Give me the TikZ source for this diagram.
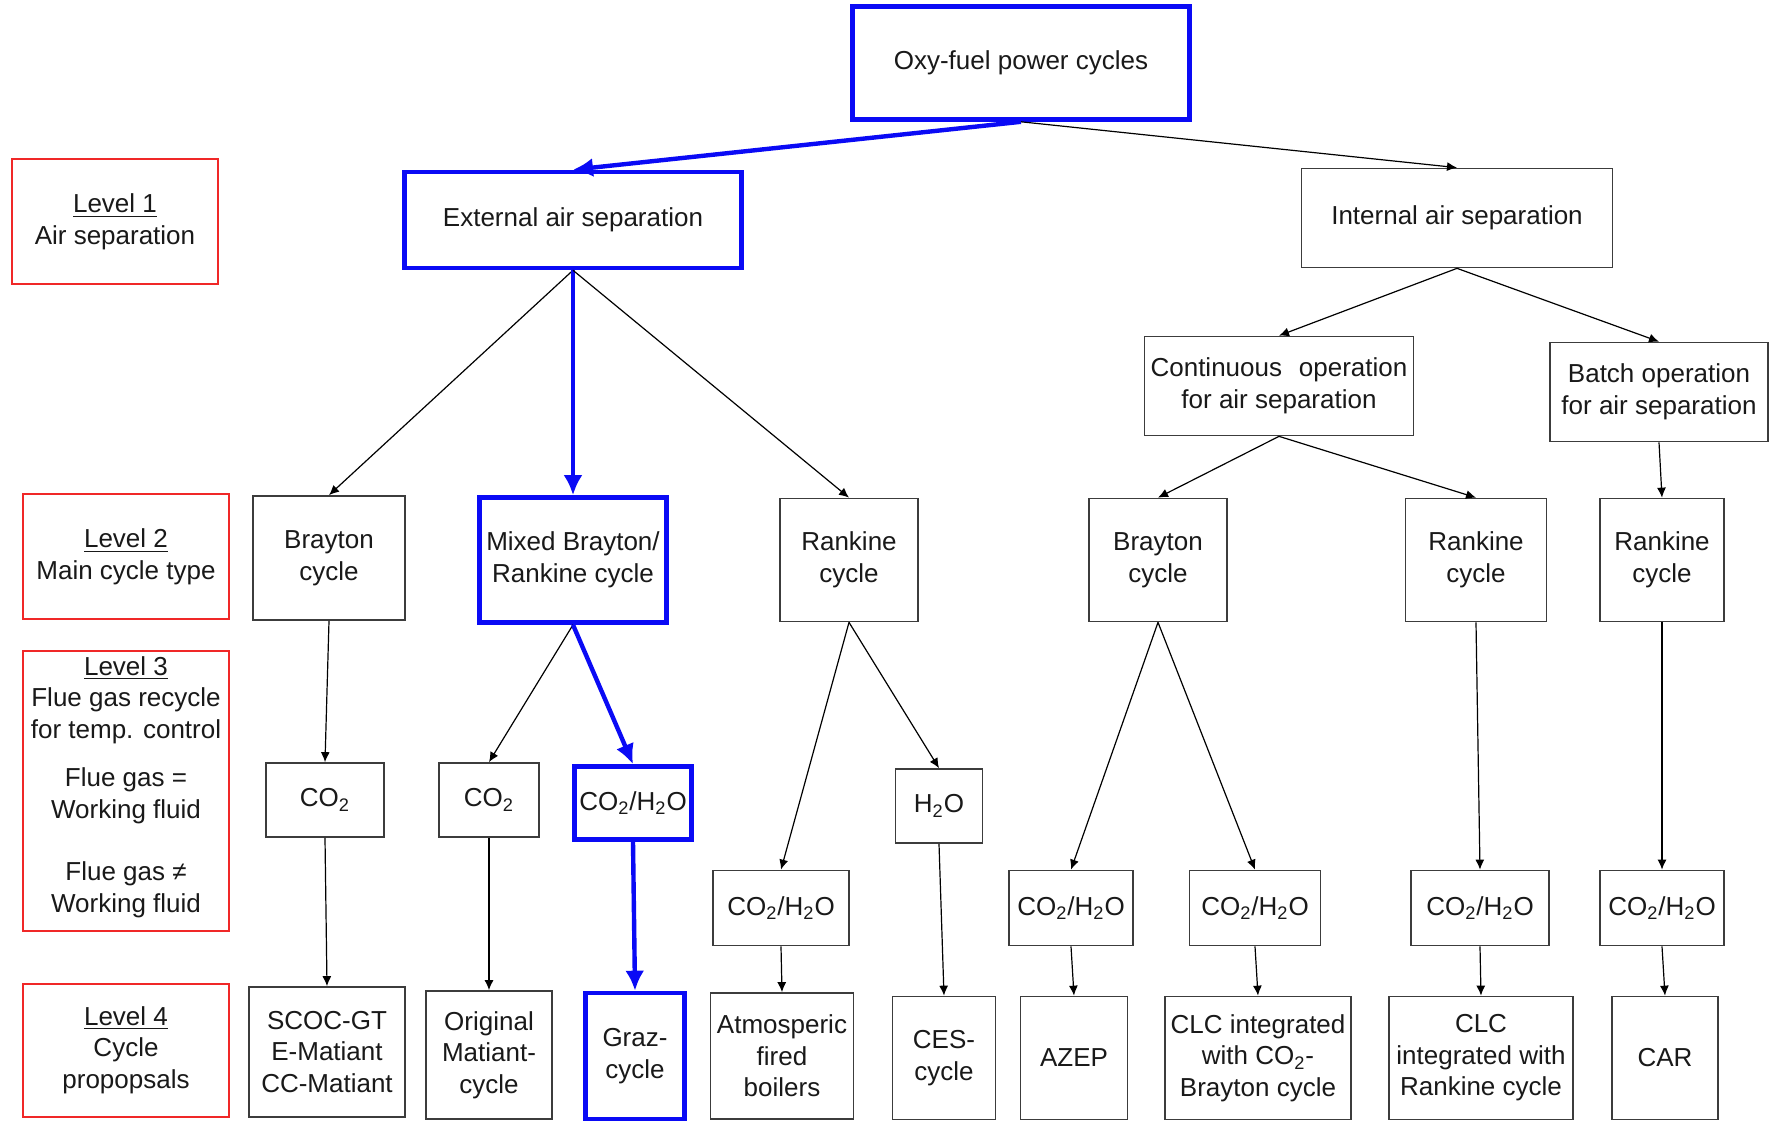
\documentclass[tikz,border=0pt]{standalone}
\usepackage{fontspec}
\setmainfont{Liberation Sans}
\usetikzlibrary{arrows.meta}
\definecolor{dblue}{RGB}{10,10,245}
\definecolor{dred}{RGB}{240,40,40}
\definecolor{dgray}{RGB}{60,60,60}
\newcommand{\fsz}{\fontsize{13}{15.8}\selectfont}
\begin{document}
\begin{tikzpicture}[x=0.5pt,y=-0.5pt,
  sz/.style 2 args={minimum width=#1*0.5pt, minimum height=#2*0.5pt},
  box/.style={draw=dgray, line width=0.85pt, fill=white, inner sep=0pt, align=center, font=\fsz, text=black!90},
  bluebox/.style={box, draw=dblue, line width=2.3pt},
  redbox/.style={box, draw=dred, line width=1pt},
  txt/.style={inner sep=0pt, align=center, font=\fsz, text=black!90},
  arr/.style={-{Latex[length=5pt,width=4.5pt]}, line width=0.6pt, draw=black},
  bluearr/.style={-{Latex[length=10pt,width=9.5pt]}, line width=2.2pt, draw=dblue}]
\useasboundingbox[fill=white] (0,0) rectangle (1773,1122);

% Level 0 / 1
\node[bluebox, sz={337}{113}] (oxy) at (1021,63) {Oxy-fuel power cycles};
\node[bluebox, sz={337}{96}] (ext) at (573,220) {External air separation};
\node[box, sz={311}{99}] (int) at (1457,218) {Internal air separation};
\node[redbox, sz={206}{125}] (l1) at (115,222) {\underline{Level 1}\\Air separation};
\node[box, sz={269}{99}] (cont) at (1279,386) {Continuous\hspace{0.65em}operation\\for air separation};
\node[box, sz={218}{99}] (batch) at (1659,392) {Batch operation\\for air separation};

% Level 2
\node[redbox, sz={206}{125}] (l2) at (126,557) {\underline{Level 2}\\Main cycle type};
\node[box, sz={152}{124}] (bl) at (329,558) {Brayton\\cycle};
\node[bluebox, sz={187}{125}] (mix) at (573,560) {Mixed Brayton/\\Rankine cycle};
\node[box, sz={138}{123}] (rk1) at (849,560) {Rankine\\cycle};
\node[box, sz={138}{123}] (br) at (1158,560) {Brayton\\cycle};
\node[box, sz={141}{123}] (rk2) at (1476,560) {Rankine\\cycle};
\node[box, sz={124}{123}] (rk3) at (1662,560) {Rankine\\cycle};

% Level 3
\node[redbox, sz={206}{280}] (l3) at (126,791) {};
\node[txt] (l3a) at (126,700) {\underline{Level 3}\\Flue gas recycle\\for temp. control};
\node[txt] (l3b) at (126,796) {Flue gas =\\Working fluid};
\node[txt] (l3c) at (126,890) {Flue gas ≠\\Working fluid};

\node[box, sz={118}{74}] (c1) at (325,800) {CO\textsubscript{2}};
\node[box, sz={100}{74}] (c2) at (489,800) {CO\textsubscript{2}};
\node[bluebox, sz={117}{73}] (c3) at (633,803) {CO\textsubscript{2}/H\textsubscript{2}O};
\node[box, sz={87}{74}] (h2o) at (939,806) {H\textsubscript{2}O};

\node[box, sz={136}{75}] (ca) at (781,908) {CO\textsubscript{2}/H\textsubscript{2}O};
\node[box, sz={124}{75}] (cb) at (1071,908) {CO\textsubscript{2}/H\textsubscript{2}O};
\node[box, sz={131}{75}] (cc) at (1255,908) {CO\textsubscript{2}/H\textsubscript{2}O};
\node[box, sz={138}{75}] (cd) at (1480,908) {CO\textsubscript{2}/H\textsubscript{2}O};
\node[box, sz={124}{75}] (ce) at (1662,908) {CO\textsubscript{2}/H\textsubscript{2}O};

% Level 4
\node[redbox, sz={206}{133}] (l4) at (126,1050) {\underline{Level 4}\\Cycle\\propopsals};
\node[box, sz={156}{130}] (p1) at (327,1052) {SCOC-GT\\E-Matiant\\CC-Matiant};
\node[box, sz={126}{128}] (p2) at (489,1055) {Original\\Matiant-\\cycle};
\node[bluebox, sz={99}{126}] (p3) at (635,1056) {Graz-\\cycle};
\node[box, sz={143}{126}] (p4) at (782,1056) {Atmosperic\\fired\\boilers};
\node[box, sz={103}{123}] (p5) at (944,1058) {CES-\\cycle};
\node[box, sz={107}{123}] (p6) at (1074,1058) {AZEP};
\node[box, sz={186}{123}] (p7) at (1258,1058) {CLC integrated\\with CO\textsubscript{2}-\\Brayton cycle};
\node[box, sz={184}{123}] (p8) at (1481,1058) {CLC\\integrated with\\Rankine cycle};
\node[box, sz={106}{123}] (p9) at (1665,1058) {CAR};

% connectors
\draw[bluearr] (oxy.south) -- (ext.north);
\draw[arr] (oxy.south) -- (int.north);
\draw[arr] (ext.south) -- (bl.north);
\draw[bluearr] (ext.south) -- (mix.north);
\draw[arr] (ext.south) -- (rk1.north);
\draw[arr] (int.south) -- (cont.north);
\draw[arr] (int.south) -- (batch.north);
\draw[arr] (cont.south) -- (br.north);
\draw[arr] (cont.south) -- (rk2.north);
\draw[arr] (batch.south) -- (rk3.north);
\draw[arr] (bl.south) -- (c1.north);
\draw[arr] (mix.south) -- (c2.north);
\draw[bluearr] (mix.south) -- (c3.north);
\draw[arr] (rk1.south) -- (ca.north);
\draw[arr] (rk1.south) -- (h2o.north);
\draw[arr] (br.south) -- (cb.north);
\draw[arr] (br.south) -- (cc.north);
\draw[arr] (rk2.south) -- (cd.north);
\draw[arr] (rk3.south) -- (ce.north);
\draw[arr] (c1.south) -- (p1.north);
\draw[arr] (c2.south) -- (p2.north);
\draw[bluearr] (c3.south) -- (p3.north);
\draw[arr] (ca.south) -- (p4.north);
\draw[arr] (h2o.south) -- (p5.north);
\draw[arr] (cb.south) -- (p6.north);
\draw[arr] (cc.south) -- (p7.north);
\draw[arr] (cd.south) -- (p8.north);
\draw[arr] (ce.south) -- (p9.north);
\end{tikzpicture}
\end{document}
